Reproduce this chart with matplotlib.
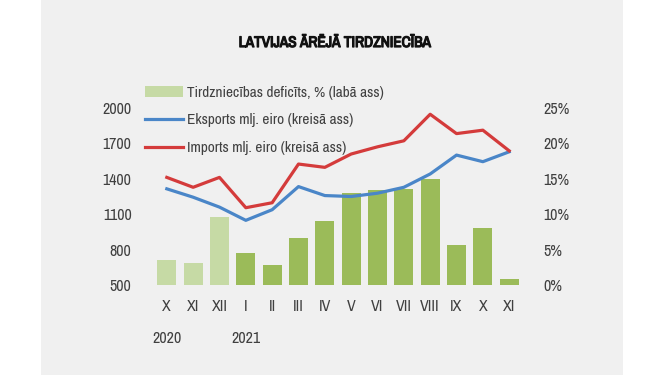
import numpy as np
import matplotlib
matplotlib.use('Agg')
import matplotlib.pyplot as plt
from matplotlib import font_manager as fm
from matplotlib import patheffects as pe
from matplotlib.patches import Rectangle

# meklē šauru fontu, ja tāds ir
cond = [f for f in fm.fontManager.ttflist
        if 'Narrow' in f.name or 'Condensed' in f.name or f.stretch in ('condensed', 'semi-condensed', 'extra-condensed')]
names = sorted(set((f.name, f.stretch) for f in cond))
if names:
    plt.rcParams['font.family'] = [names[0][0], 'DejaVu Sans']
    plt.rcParams['font.stretch'] = names[0][1]
else:
    plt.rcParams['font.family'] = ['DejaVu Sans']

# dati
months = ['X', 'XI', 'XII', 'I', 'II', 'III', 'IV', 'V', 'VI', 'VII', 'VIII', 'IX', 'X', 'XI']
years = ['2020', '', '', '2021', '', '', '', '', '', '', '', '', '', '']
deficit = [3.5, 3.1, 9.6, 4.5, 2.8, 6.6, 9.1, 13.0, 13.4, 13.5, 15.0, 5.6, 8.0, 0.8]
eksports = [1315, 1244, 1160, 1048, 1138, 1334, 1258, 1250, 1278, 1328, 1441, 1601, 1545, 1629]
imports = [1412, 1328, 1412, 1155, 1197, 1525, 1497, 1610, 1671, 1722, 1947, 1783, 1812, 1637]

light_green = '#c6daa5'
dark_green = '#9bbb59'
blue = '#4a86c8'
red = '#d43b3b'
txt = '#404040'

fig = plt.figure(figsize=(6.65, 3.75), dpi=100)
fig.patch.set_facecolor('white')
fig.patches.append(Rectangle((41 / 665, 0), (623 - 41) / 665, 1, transform=fig.transFigure,
                             facecolor='#f0f0f0', edgecolor='none', zorder=-10))

ax = fig.add_axes([151 / 665, 90 / 375, 374 / 665, 177 / 375])
ax.patch.set_visible(False)
x = np.arange(len(months))
colors = [light_green if i < 3 else dark_green for i in range(len(months))]
bars = ax.bar(x, deficit, width=0.72, color=colors, label='Tirdzniecības deficīts, % (labā ass)')
ax.set_ylim(0, 25)
ax.set_xlim(-0.6, len(months) - 0.4)
ax.set_yticks([0, 5, 10, 15, 20, 25])
ax.set_yticklabels([str(v) + '%' for v in [0, 5, 10, 15, 20, 25]])
ax.set_xticks(x)
ax.set_xticklabels(months)

ax2 = ax.twinx()
l1, = ax2.plot(x, eksports, color=blue, lw=2.3, label='Eksports mlj. eiro (kreisā ass)')
l2, = ax2.plot(x, imports, color=red, lw=2.3, label='Imports mlj. eiro (kreisā ass)')
ax2.set_ylim(500, 2000)
ax2.set_yticks([500, 800, 1100, 1400, 1700, 2000])
ax.yaxis.tick_right()
ax2.yaxis.tick_left()

fs = 11.5
for a in [ax, ax2]:
    for s in a.spines.values():
        s.set_visible(False)
    a.tick_params(length=0, labelsize=fs, colors=txt)
ax.tick_params(axis='y', pad=13)
ax2.tick_params(axis='y', pad=14)
ax.tick_params(axis='x', pad=10)

for i, y in enumerate(years):
    if y:
        ax.text(i, -0.3, y, transform=ax.get_xaxis_transform(), ha='center', va='center',
                fontsize=fs, color=txt)

# virsraksts - treknraksts ar apvilkumu
fig.text(335 / 665, 1 - 43 / 375, 'LATVIJAS ĀRĒJĀ TIRDZNIECĪBA', ha='center', va='center',
         fontsize=11, fontweight='bold', color='#111111',
         path_effects=[pe.withStroke(linewidth=0.9, foreground='#111111')])

fig.legend([bars, l1, l2], [bars.get_label(), l1.get_label(), l2.get_label()],
           loc='upper left', bbox_to_anchor=(137 / 665, 1 - 78 / 375), frameon=False,
           fontsize=11, handlelength=2.5, handletextpad=0.25, labelspacing=0.9,
           borderpad=0, labelcolor=txt)

fig.savefig('out.png', dpi=100)
